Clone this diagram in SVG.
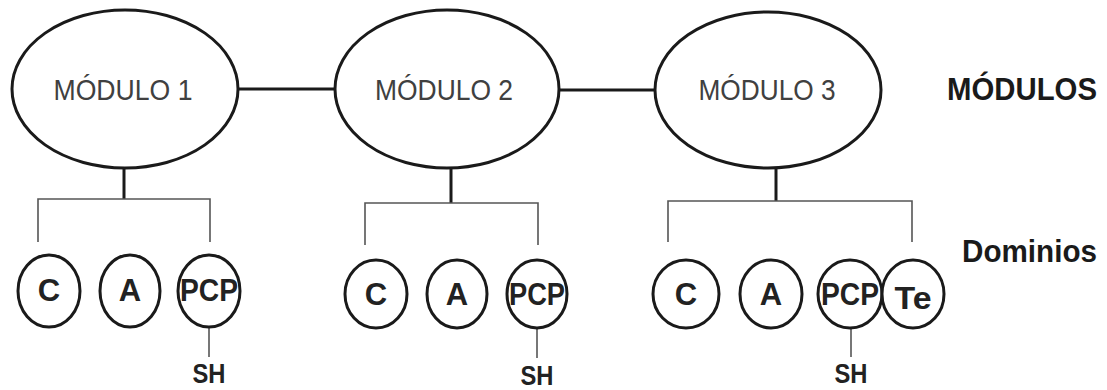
<svg xmlns="http://www.w3.org/2000/svg" width="1107" height="390" viewBox="0 0 1107 390">
<style>
.mod{fill:#fff;stroke:#1a1a1a;stroke-width:3}
.dom{fill:#fff;stroke:#1a1a1a;stroke-width:3}
.modt{font-family:"Liberation Sans",Arial,sans-serif;font-size:30px;fill:#404040;text-anchor:middle}
.domt{font-family:"Liberation Sans",Arial,sans-serif;font-weight:bold;font-size:31px;fill:#222;text-anchor:middle}
.lab{font-family:"Liberation Sans",Arial,sans-serif;font-weight:bold;font-size:31px;fill:#1a1a1a}
.sh{font-family:"Liberation Sans",Arial,sans-serif;font-weight:bold;font-size:28px;fill:#222;text-anchor:middle}
.thick{stroke:#1a1a1a;stroke-width:3;fill:none}
.thin{stroke:#555;stroke-width:1.6;fill:none}
</style>
<rect width="1107" height="390" fill="#fff"/>
<g id="connectors">
<line class="thick" x1="238" y1="89" x2="335" y2="89"/>
<line class="thick" x1="559" y1="90" x2="655" y2="90"/>
<line class="thick" x1="124" y1="168" x2="124" y2="199"/>
<line class="thick" x1="451" y1="168" x2="451" y2="203"/>
<line class="thick" x1="776" y1="168" x2="776" y2="201"/>
<path class="thin" d="M38 242 V199 H210 V242"/>
<path class="thin" d="M365 245 V203 H538 V245"/>
<path class="thin" d="M668 242 V201 H912 V242"/>
<line class="thin" x1="209" y1="327" x2="209" y2="357"/>
<line class="thin" x1="537" y1="328" x2="537" y2="358"/>
<line class="thin" x1="851" y1="328" x2="851" y2="357"/>
</g>
<g id="modulo1"><ellipse class="mod" cx="125" cy="89" rx="113" ry="79"/><text class="modt" x="123" y="100" textLength="139" lengthAdjust="spacingAndGlyphs">MÓDULO 1</text></g>
<g id="modulo2"><ellipse class="mod" cx="447" cy="89" rx="112" ry="79"/><text class="modt" x="444" y="100" textLength="138" lengthAdjust="spacingAndGlyphs">MÓDULO 2</text></g>
<g id="modulo3"><ellipse class="mod" cx="768" cy="90" rx="113" ry="78"/><text class="modt" x="767" y="100" textLength="137" lengthAdjust="spacingAndGlyphs">MÓDULO 3</text></g>
<g id="label-modulos"><text class="lab" x="947" y="100" textLength="150" lengthAdjust="spacingAndGlyphs">MÓDULOS</text></g>
<g id="label-dominios"><text class="lab" x="962" y="262" textLength="135" lengthAdjust="spacingAndGlyphs">Dominios</text></g>
<g id="m1-c"><ellipse class="dom" cx="49" cy="291" rx="31" ry="36"/><text class="domt" x="49" y="301">C</text></g>
<g id="m1-a"><ellipse class="dom" cx="130" cy="291" rx="30" ry="36"/><text class="domt" x="130" y="301">A</text></g>
<g id="m1-pcp"><ellipse class="dom" cx="209" cy="291" rx="31" ry="36"/><text class="domt" x="209" y="301" font-size="28" textLength="58" lengthAdjust="spacingAndGlyphs">PCP</text></g>
<g id="m1-sh"><text class="sh" x="209" y="383" textLength="33" lengthAdjust="spacingAndGlyphs">SH</text></g>
<g id="m2-c"><ellipse class="dom" cx="376" cy="294" rx="31" ry="34"/><text class="domt" x="376" y="305">C</text></g>
<g id="m2-a"><ellipse class="dom" cx="457" cy="294" rx="30" ry="34"/><text class="domt" x="457" y="305">A</text></g>
<g id="m2-pcp"><ellipse class="dom" cx="537" cy="294" rx="30" ry="34"/><text class="domt" x="537" y="305" font-size="28" textLength="56" lengthAdjust="spacingAndGlyphs">PCP</text></g>
<g id="m2-sh"><text class="sh" x="537" y="385" textLength="33" lengthAdjust="spacingAndGlyphs">SH</text></g>
<g id="m3-c"><ellipse class="dom" cx="686" cy="294" rx="33" ry="34"/><text class="domt" x="686" y="305">C</text></g>
<g id="m3-a"><ellipse class="dom" cx="771" cy="294" rx="31" ry="34"/><text class="domt" x="771" y="305">A</text></g>
<g id="m3-pcp"><ellipse class="dom" cx="850" cy="294" rx="32" ry="34"/><text class="domt" x="850" y="305" font-size="28" textLength="58" lengthAdjust="spacingAndGlyphs">PCP</text></g>
<g id="m3-te"><ellipse class="dom" cx="913" cy="294" rx="31" ry="34"/><text class="domt" x="913" y="309" font-size="40" textLength="37" lengthAdjust="spacingAndGlyphs">Te</text></g>
<g id="m3-sh"><text class="sh" x="851" y="383" textLength="33" lengthAdjust="spacingAndGlyphs">SH</text></g>
</svg>
